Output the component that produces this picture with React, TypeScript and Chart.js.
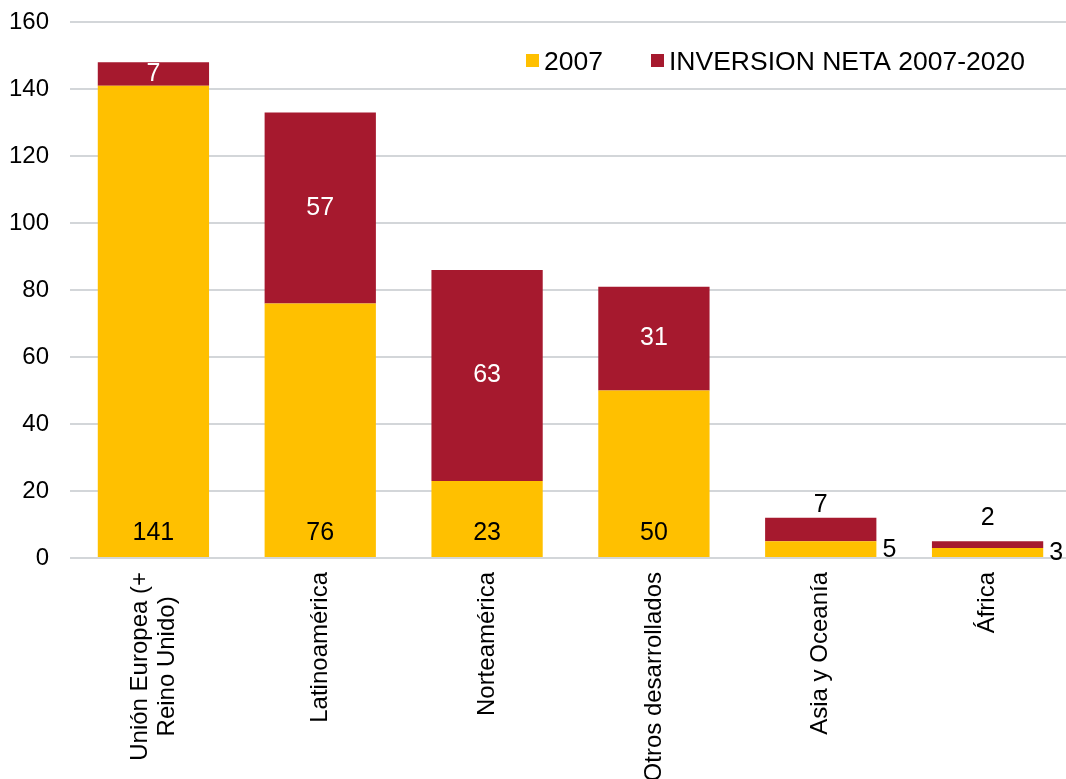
import React, { useEffect, useRef } from "react";
import { Chart, registerables } from "chart.js";

Chart.register(...registerables);

const categories: string[][] = [
  ["Unión Europea (+", "Reino Unido)"],
  ["Latinoamérica"],
  ["Norteamérica"],
  ["Otros desarrollados"],
  ["Asia y Oceanía"],
  ["África"],
];
const values2007 = [141, 76, 23, 50, 5, 3];
const netInvestment = [7, 57, 63, 31, 7, 2];
const seriesNames = ["2007", "INVERSION NETA 2007-2020"];
const seriesColors = ["#FFC000", "#A6192E"];
const yMin = 0;
const yMax = 160;
const yStep = 20;

const FONT = "'Liberation Sans', Arial, sans-serif";
const FS = 24;
const FS_DATA = 25;
const FS_LEGEND = 26.5;

const labelsPlugin = {
  id: "customLabels",
  afterDatasetsDraw(chart: any) {
    const ctx = chart.ctx as CanvasRenderingContext2D;
    const yScale = chart.scales.y;
    const m0 = chart.getDatasetMeta(0);
    const m1 = chart.getDatasetMeta(1);
    ctx.save();
    ctx.font = `${FS_DATA}px ${FONT}`;
    m0.data.forEach((bar: any, i: number) => {
      const v = values2007[i];
      const w = bar.width;
      ctx.fillStyle = "#000";
      if (v >= 15) {
        ctx.textAlign = "center";
        ctx.textBaseline = "alphabetic";
        ctx.fillText(String(v), bar.x, bar.base - 17);
      } else {
        ctx.textAlign = "left";
        ctx.textBaseline = "middle";
        ctx.fillText(String(v), bar.x + w / 2 + 6, (bar.y + bar.base) / 2 + 1);
      }
    });
    m1.data.forEach((bar: any, i: number) => {
      const v = netInvestment[i];
      const total = values2007[i] + v;
      if (total >= 20) {
        ctx.fillStyle = "#fff";
        ctx.textAlign = "center";
        ctx.textBaseline = "middle";
        ctx.fillText(String(v), bar.x, (bar.y + bar.base) / 2);
      } else {
        ctx.fillStyle = "#000";
        ctx.textAlign = "center";
        ctx.textBaseline = "alphabetic";
        const yb = Math.min(bar.y - 6, yScale.getPixelForValue(10));
        ctx.fillText(String(v), bar.x, yb);
      }
    });
    ctx.restore();
  },
  afterDraw(chart: any) {
    const ctx = chart.ctx as CanvasRenderingContext2D;
    const xScale = chart.scales.x;
    const area = chart.chartArea;
    ctx.save();
    ctx.font = `${FS}px ${FONT}`;
    ctx.fillStyle = "#000";
    categories.forEach((lines, i) => {
      const cx = xScale.getPixelForValue(i);
      const widths = lines.map((l) => ctx.measureText(l).width);
      const maxW = Math.max(...widths);
      const lh = 27;
      ctx.save();
      ctx.translate(cx, area.bottom + 14);
      ctx.rotate(-Math.PI / 2);
      ctx.textAlign = "center";
      ctx.textBaseline = "middle";
      lines.forEach((l, k) => {
        const off = (k - (lines.length - 1) / 2) * lh;
        ctx.fillText(l, -maxW / 2, off);
      });
      ctx.restore();
    });
    // legend
    ctx.font = `${FS_LEGEND}px ${FONT}`;
    const sq = 13;
    const items = [
      { x: 526, label: seriesNames[0], color: seriesColors[0] },
      { x: 651, label: seriesNames[1], color: seriesColors[1] },
    ];
    items.forEach((it) => {
      ctx.fillStyle = it.color;
      ctx.fillRect(it.x, 54, sq, sq);
      ctx.fillStyle = "#000";
      ctx.textAlign = "left";
      ctx.textBaseline = "alphabetic";
      ctx.fillText(it.label, it.x + 18, 70);
    });
    ctx.restore();
  },
};

export default function App() {
  const ref = useRef<HTMLCanvasElement | null>(null);
  useEffect(() => {
    if (!ref.current) return;
    const chart = new Chart(ref.current, {
      type: "bar",
      data: {
        labels: categories.map((c) => c.join(" ")),
        datasets: [
          {
            label: seriesNames[0],
            data: values2007,
            backgroundColor: seriesColors[0],
            barPercentage: 0.667,
            categoryPercentage: 1,
          },
          {
            label: seriesNames[1],
            data: netInvestment,
            backgroundColor: seriesColors[1],
            barPercentage: 0.667,
            categoryPercentage: 1,
          },
        ],
      },
      options: {
        responsive: false,
        animation: false,
        devicePixelRatio: 1,
        layout: { padding: { top: 22, left: 0, right: 0, bottom: 0 } },
        plugins: {
          legend: { display: false },
          tooltip: { enabled: false },
        },
        scales: {
          x: {
            stacked: true,
            grid: { display: false },
            border: { display: false },
            ticks: { display: false },
            afterFit: (s: any) => {
              s.height = 221;
              s.paddingLeft = 0;
              s.paddingRight = 0;
            },
          },
          y: {
            stacked: true,
            min: yMin,
            max: yMax,
            ticks: {
              stepSize: yStep,
              padding: 21,
              color: "#000",
              font: { family: FONT, size: FS },
            },
            grid: { color: "#D3D6D9", lineWidth: 2, drawTicks: false },
            border: { display: false },
            afterFit: (s: any) => {
              s.width = 70;
              s.paddingTop = 0;
              s.paddingBottom = 0;
            },
          },
        },
      },
      plugins: [labelsPlugin],
    });
    return () => chart.destroy();
  }, []);
  return (
    <div
      style={{
        position: "absolute",
        left: 0,
        top: 0,
        width: 1066,
        height: 779,
        overflow: "hidden",
        background: "#fff",
      }}
    >
      <canvas ref={ref} width={1071} height={779} style={{ display: "block" }} />
    </div>
  );
}
